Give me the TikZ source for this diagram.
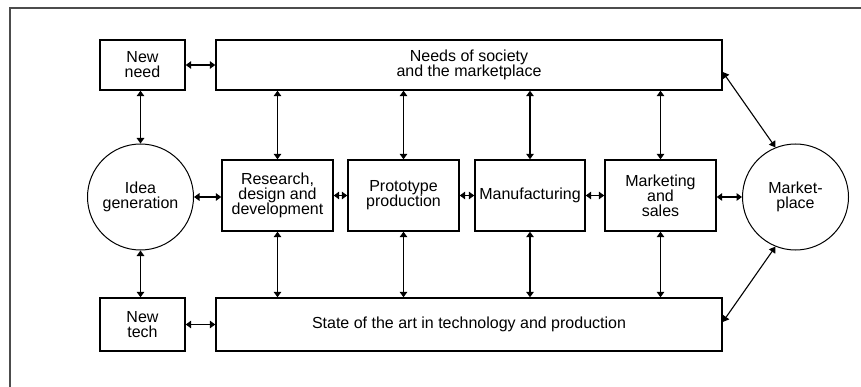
\documentclass[tikz,border=0pt]{standalone}
\usepackage{fontspec}
\setmainfont{Liberation Sans}
\usetikzlibrary{arrows.meta,calc}
\begin{document}
\begin{tikzpicture}[x=1pt,y=-1pt,
  every node/.style={font=\fontsize{16}{15}\selectfont, align=center, inner sep=0pt},
  box/.style={draw, line width=1.4pt, rectangle},
  hub/.style={draw, line width=1pt, circle, minimum size=106pt},
  link/.style={line width=1.6pt, {Triangle[length=5.5pt,width=7.5pt]}-{Triangle[length=5.5pt,width=7.5pt]}},
  slant/.style={line width=1.1pt, {Triangle[length=6pt,width=7.5pt]}-{Triangle[length=6pt,width=7.5pt]}}
]
\useasboundingbox (0,0) rectangle (861,387);
% outer frame
\draw[line width=2pt, draw=black!70] (10,395) -- (10,8) -- (870,8);

% top and bottom bands
\node[box, minimum width=85pt, minimum height=50pt] (newneed) at (142.5,65) {New\\need};
\node[box, minimum width=506pt, minimum height=50pt] (needs) at (469,65) {Needs of society\\and the marketplace};
\node[box, minimum width=85pt, minimum height=53pt] (newtech) at (142.5,324.5) {New\\tech};
\node[box, minimum width=506pt, minimum height=53pt] (state) at (469,324.5) {State of the art in technology and production};

% middle chain
\node[hub] (idea) at (140.5,197) {Idea\\generation};
\node[box, minimum width=111pt, minimum height=71pt] (rdd) at (277.5,195.5) {Research,\\design and\\development};
\node[box, minimum width=111pt, minimum height=71pt] (proto) at (403.5,195.5) {Prototype\\production};
\node[box, minimum width=110pt, minimum height=71pt] (manuf) at (530,195.5) {Manufacturing};
\node[box, minimum width=111pt, minimum height=71pt] (mkt) at (660.5,195.5) {Marketing\\and\\sales};
\node[hub] (market) at (795.5,197) {Market-\\place};

% horizontal links
\draw[link] (newneed.east) -- (needs.west);
\draw[link] (newtech.east) -- (state.west);
\draw[link] (idea.east) -- (rdd.west |- idea.east);
\draw[link] (rdd.east) -- (proto.west);
\draw[link] (proto.east) -- (manuf.west);
\draw[link] (manuf.east) -- (mkt.west);
\draw[link] (mkt.east |- market.west) -- (market.west);

% vertical links
\draw[link] (newneed.south -| idea.north) -- (idea.north);
\draw[link] (idea.south) -- (newtech.north -| idea.south);
\foreach \n in {rdd,proto,manuf,mkt}{
  \draw[link] (\n.north |- needs.south) -- (\n.north);
  \draw[link] (\n.south) -- (\n.south |- state.north);
}

% marketplace links
\draw[slant] ([yshift=-7pt]needs.east) -- (market.112);
\draw[slant] ([yshift=2.5pt]state.east) -- (market.248);
\end{tikzpicture}
\end{document}
